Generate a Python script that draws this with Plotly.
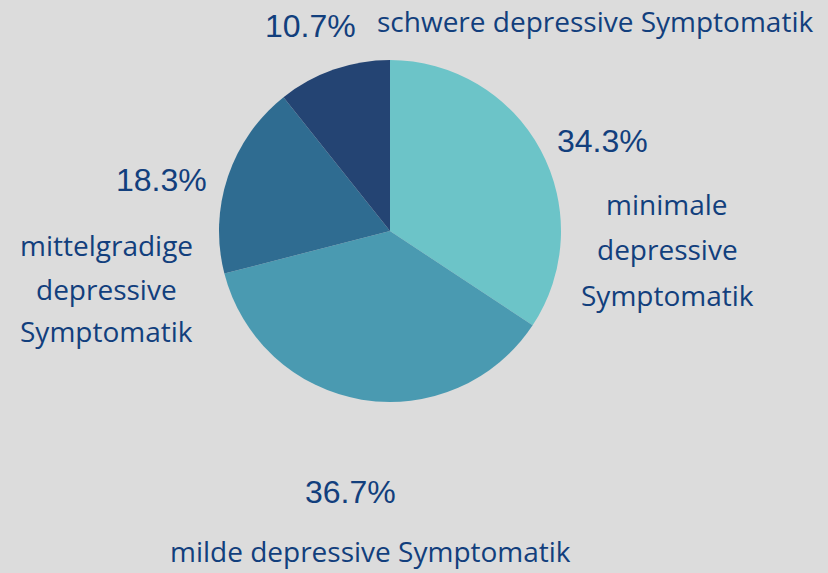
import plotly.graph_objects as go

categories = ["minimale depressive Symptomatik", "milde depressive Symptomatik",
              "mittelgradige depressive Symptomatik", "schwere depressive Symptomatik"]
values = [34.3, 36.7, 18.3, 10.7]
colors = ["#6CC4C8", "#4A9AB1", "#2F6C91", "#244473"]
pct_labels = [f"{v:.1f}%" for v in values]

W, H = 828, 573
BG = "#DCDCDC"
TXT = "#123F7D"

fig = go.Figure(go.Pie(
    labels=categories, values=values, sort=False, direction="clockwise",
    rotation=0, marker=dict(colors=colors, line=dict(width=0)),
    textinfo="none", hoverinfo="label+percent", showlegend=False,
    domain=dict(x=[(390 - 171) / W, (390 + 171) / W],
                y=[(H - 231 - 171) / H, (H - 231 + 171) / H]),
))

pct_font = dict(family="Liberation Sans, Arial", size=32, color=TXT)
lab_font = dict(family="Open Sans", size=28, color=TXT)

def ann(text, x, y, font):
    fig.add_annotation(text=text, x=x / W, y=1 - y / H, xref="paper", yref="paper",
                       showarrow=False, font=font, xanchor="center", yanchor="middle")

# percentages
ann(pct_labels[3], 310, 26, pct_font)
ann(pct_labels[0], 602, 141, pct_font)
ann(pct_labels[2], 161, 180, pct_font)
ann(pct_labels[1], 350, 492, pct_font)

# category labels (line by line)
ann(categories[3], 595, 21, lab_font)
for t, y in zip(["minimale", "depressive", "Symptomatik"], [204, 249, 295]):
    ann(t, 667, y, lab_font)
for t, y in zip(["mittelgradige", "depressive", "Symptomatik"], [245, 289, 331]):
    ann(t, 107, y, lab_font)
ann(categories[1], 370, 551, lab_font)

fig.update_layout(width=W, height=H, margin=dict(l=0, r=0, t=0, b=0),
                  paper_bgcolor=BG, plot_bgcolor=BG)
fig.write_html("out.html", config={"displayModeBar": False},
               post_script="document.body.style.margin='0';document.body.style.overflow='hidden';")
